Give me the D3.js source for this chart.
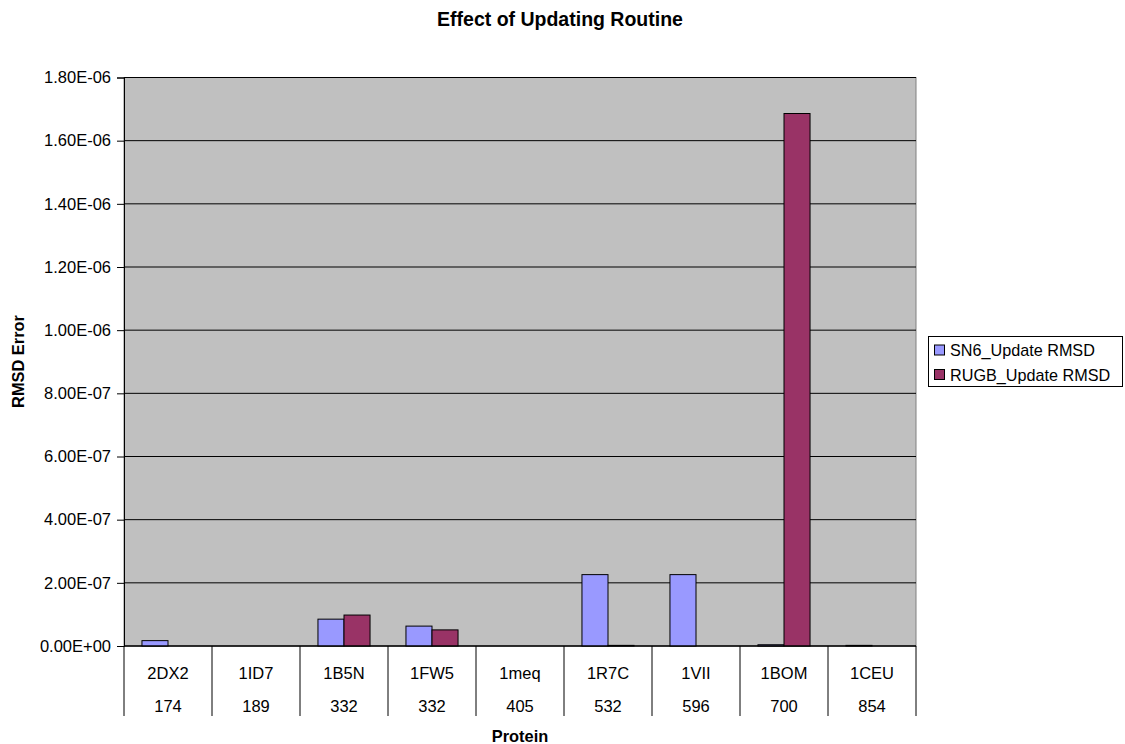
<!DOCTYPE html>
<html>
<head>
<meta charset="utf-8">
<script src="https://cdn.jsdelivr.net/npm/d3@7"></script>
<style>
  html, body { margin: 0; padding: 0; background: #ffffff; }
  svg { display: block; font-family: "Liberation Sans", Arial, sans-serif; }
</style>
</head>
<body>
<svg id="chart" width="1125" height="744"></svg>
<script>
// Protein IDs and their sizes (second row of the category axis)
const proteins = ["2DX2", "1ID7", "1B5N", "1FW5", "1meq", "1R7C", "1VII", "1BOM", "1CEU"];
const sizes = ["174", "189", "332", "332", "405", "532", "596", "700", "854"];

// RMSD error per protein for each update routine
const sn6Update = [1.7e-8, 0, 8.5e-8, 6.3e-8, 0, 2.26e-7, 2.26e-7, 4e-9, 2e-9];
const rugbUpdate = [0, 0, 9.8e-8, 5.1e-8, 0, 2e-9, 0, 1.686e-6, 0];

const seriesNames = ["SN6_Update RMSD", "RUGB_Update RMSD"];
const seriesColors = ["#9999FF", "#993366"];
const yTicks = [0, 2e-7, 4e-7, 6e-7, 8e-7, 1e-6, 1.2e-6, 1.4e-6, 1.6e-6, 1.8e-6];

const svg = d3.select("#chart");
const plot = { left: 124, right: 916, top: 77.5, bottom: 646 };

const x = d3.scaleBand().domain(proteins).range([plot.left, plot.right]).paddingInner(0).paddingOuter(0);
const xSeries = d3.scaleBand().domain(seriesNames).range([0, x.bandwidth()]).paddingInner(0).paddingOuter(0.69);
const y = d3.scaleLinear().domain([0, 1.8e-6]).range([plot.bottom, plot.top]);

// Plot background
svg.append("rect")
  .attr("x", plot.left).attr("y", plot.top)
  .attr("width", plot.right - plot.left).attr("height", plot.bottom - plot.top)
  .attr("fill", "#C0C0C0").attr("stroke", "#808080").attr("stroke-width", 1);

// Horizontal gridlines
svg.append("g")
  .selectAll("line")
  .data(yTicks)
  .join("line")
  .attr("x1", plot.left).attr("x2", plot.right)
  .attr("y1", d => y(d)).attr("y2", d => y(d))
  .attr("stroke", "#000").attr("stroke-width", 1);

// Value axis
const fmt = d => d === 0 ? "0.00E+00" : d.toExponential(2).toUpperCase().replace(/E([+-])(\d)$/, "E$10$2");
const yAxis = svg.append("g")
  .attr("transform", `translate(${plot.left},0)`)
  .call(d3.axisLeft(y).tickValues(yTicks).tickSize(7).tickPadding(6).tickFormat(fmt));
yAxis.select(".domain").attr("stroke", "#000");
yAxis.selectAll(".tick line").attr("stroke", "#000");
yAxis.selectAll("text").attr("font-size", 16.5).attr("fill", "#000")
  .attr("font-family", "Liberation Sans, Arial, sans-serif");

// Bars
const series = [sn6Update, rugbUpdate];
const gBars = svg.append("g");
series.forEach((vals, si) => {
  gBars.append("g")
    .selectAll("rect")
    .data(proteins.map((p, i) => ({ p, v: vals[i] })))
    .join("rect")
    .filter(d => d.v > 0)
    .attr("x", d => x(d.p) + xSeries(seriesNames[si]))
    .attr("width", xSeries.bandwidth())
    .attr("y", d => y(d.v))
    .attr("height", d => y(0) - y(d.v))
    .attr("fill", seriesColors[si])
    .attr("stroke", "#000").attr("stroke-width", 1);
});

// Baseline
svg.append("line")
  .attr("x1", plot.left).attr("x2", plot.right)
  .attr("y1", plot.bottom).attr("y2", plot.bottom)
  .attr("stroke", "#000");

// Two-level category axis: separators and labels
const tableBottom = 716;
const bounds = proteins.map(p => x(p)).concat([plot.right]);
svg.append("g")
  .selectAll("line")
  .data(bounds)
  .join("line")
  .attr("x1", d => d).attr("x2", d => d)
  .attr("y1", plot.bottom).attr("y2", tableBottom)
  .attr("stroke", "#000");

svg.append("g")
  .selectAll("text")
  .data(proteins)
  .join("text")
  .attr("x", d => x(d) + x.bandwidth() / 2)
  .attr("y", 678.5)
  .attr("text-anchor", "middle")
  .attr("font-size", 16.5)
  .text(d => d);

svg.append("g")
  .selectAll("text")
  .data(proteins.map((p, i) => ({ p, s: sizes[i] })))
  .join("text")
  .attr("x", d => x(d.p) + x.bandwidth() / 2)
  .attr("y", 711.5)
  .attr("text-anchor", "middle")
  .attr("font-size", 16.5)
  .text(d => d.s);

// Titles
svg.append("text")
  .attr("x", 560).attr("y", 25.7)
  .attr("text-anchor", "middle")
  .attr("font-size", 19.5).attr("font-weight", "bold")
  .text("Effect of Updating Routine");

svg.append("text")
  .attr("x", (plot.left + plot.right) / 2).attr("y", 742)
  .attr("text-anchor", "middle")
  .attr("font-size", 16.4).attr("font-weight", "bold")
  .text("Protein");

svg.append("text")
  .attr("transform", `translate(24,361.5) rotate(-90)`)
  .attr("text-anchor", "middle")
  .attr("font-size", 16.4).attr("font-weight", "bold")
  .text("RMSD Error");

// Legend
const legend = svg.append("g");
legend.append("rect")
  .attr("x", 928.5).attr("y", 336.5).attr("width", 194).attr("height", 50)
  .attr("fill", "#fff").attr("stroke", "#000");
seriesNames.forEach((name, i) => {
  const base = 356 + i * 24.5;
  legend.append("rect")
    .attr("x", 934.5).attr("y", base - 11).attr("width", 10).attr("height", 10)
    .attr("fill", seriesColors[i]).attr("stroke", "#000");
  legend.append("text")
    .attr("x", 950).attr("y", base)
    .attr("font-size", 16.2)
    .text(name);
});
</script>
</body>
</html>
